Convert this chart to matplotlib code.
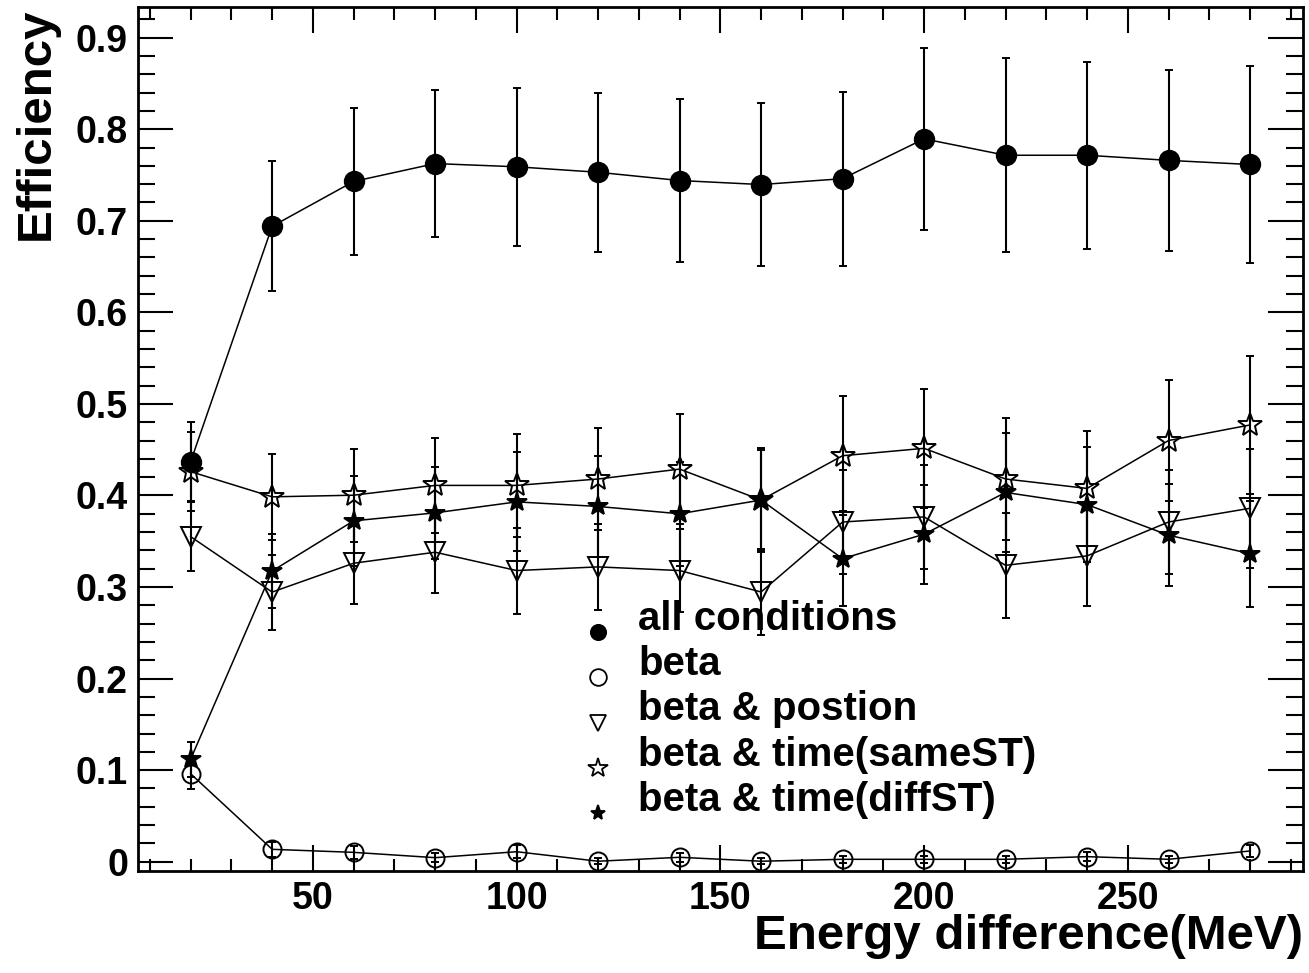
import matplotlib
matplotlib.use("Agg")
import matplotlib.pyplot as plt
from matplotlib.ticker import MultipleLocator, FuncFormatter
from matplotlib.lines import Line2D
from matplotlib.legend_handler import HandlerLine2D

plt.rcParams['font.family'] = ['Liberation Sans', 'DejaVu Sans']
plt.rcParams['font.weight'] = 'bold'

# energy difference bins (MeV)
energy = [20, 40, 60, 80, 100, 120, 140, 160, 180, 200, 220, 240, 260, 280]

# efficiencies, with their (symmetric) errors
eff_all = [0.437, 0.694, 0.743, 0.7625, 0.759, 0.753, 0.744, 0.7396, 0.746, 0.7895, 0.7716, 0.7716, 0.766, 0.7615]
err_all = [0.043, 0.071, 0.080, 0.080, 0.086, 0.087, 0.089, 0.089, 0.095, 0.099, 0.106, 0.102, 0.099, 0.108]

eff_beta = [0.096, 0.0135, 0.0102, 0.0044, 0.0109, 0.0005, 0.0048, 0.0005, 0.0026, 0.0026, 0.0026, 0.0055, 0.0026, 0.0117]
err_beta = [0.017, 0.008, 0.007, 0.005, 0.007, 0.003, 0.005, 0.003, 0.004, 0.004, 0.004, 0.005, 0.004, 0.007]

eff_pos = [0.355, 0.2945, 0.326, 0.338, 0.318, 0.322, 0.318, 0.2946, 0.371, 0.3766, 0.3237, 0.334, 0.371, 0.386]
err_pos = [0.038, 0.041, 0.044, 0.044, 0.047, 0.047, 0.045, 0.047, 0.057, 0.057, 0.057, 0.055, 0.057, 0.065]

eff_same = [0.426, 0.3985, 0.4003, 0.411, 0.411, 0.418, 0.4288, 0.395, 0.4434, 0.4515, 0.418, 0.4077, 0.46, 0.477]
err_same = [0.043, 0.047, 0.051, 0.052, 0.056, 0.056, 0.060, 0.057, 0.065, 0.065, 0.067, 0.063, 0.066, 0.075]

eff_diff = [0.112, 0.3175, 0.3723, 0.381, 0.393, 0.388, 0.380, 0.395, 0.331, 0.3577, 0.4033, 0.390, 0.3566, 0.3365]
err_diff = [0.019, 0.040, 0.049, 0.050, 0.054, 0.055, 0.057, 0.055, 0.052, 0.054, 0.065, 0.063, 0.056, 0.058]

labels = ["all conditions", "beta", "beta & postion", "beta & time(sameST)", "beta & time(diffST)"]

# marker style per series: (marker, filled, size in plot, size in legend)
styles = [("o", True, 14, 11), ("o", False, 13, 12), ("v", False, 14, 12),
          ("*", False, 18, 15), ("*", True, 15, 11)]
series = [(eff_all, err_all), (eff_beta, err_beta), (eff_pos, err_pos),
          (eff_same, err_same), (eff_diff, err_diff)]

fig = plt.figure(figsize=(13.09, 9.73), dpi=100)
ax = fig.add_axes([0.1052, 0.1048, 0.8902, 0.8877])

handles = []
for (y, e), (mk, filled, ms, ms_leg) in zip(series, styles):
    fc = 'black' if filled else 'none'
    ax.errorbar(energy, y, yerr=e, fmt='-', color='black', lw=1.1,
                marker=mk, ms=ms, mfc=fc, mec='black', mew=1.4,
                elinewidth=1.5, capsize=2.6, capthick=1.6)
    handles.append(Line2D([], [], ls='none', marker=mk, ms=ms_leg, mfc=fc,
                          mec='black', mew=1.3))


class LowHandler(HandlerLine2D):
    # put the legend markers near the text baseline, as in the original
    def create_artists(self, legend, orig_handle, xdescent, ydescent,
                       width, height, fontsize, trans):
        return super().create_artists(legend, orig_handle, xdescent, ydescent,
                                      width, height - 0.8 * fontsize, fontsize, trans)


ax.legend(handles, labels, loc='upper left', bbox_to_anchor=(578 / 1309, 1 - 600 / 973),
          bbox_transform=fig.transFigure, frameon=False, fontsize=29,
          handlelength=1.0, handletextpad=0.5, labelspacing=0.18, borderpad=0,
          borderaxespad=0, handler_map={Line2D: LowHandler()})

ax.set_xlim(7, 293)
ax.set_ylim(-0.0102, 0.9332)

ax.xaxis.set_major_locator(MultipleLocator(50))
ax.xaxis.set_minor_locator(MultipleLocator(10))
ax.yaxis.set_major_locator(MultipleLocator(0.1))
ax.yaxis.set_minor_locator(MultipleLocator(0.02))
ax.yaxis.set_major_formatter(FuncFormatter(lambda v, p: f"{v:.1f}".rstrip('0').rstrip('.') if abs(v) > 1e-9 else "0"))

ax.tick_params(which='both', direction='in', top=True, right=True, width=1.5, labelsize=27)
ax.tick_params(axis='y', which='major', length=25, pad=7)
ax.tick_params(axis='y', which='minor', length=12.5)
ax.tick_params(axis='x', which='major', length=19, pad=7)
ax.tick_params(axis='x', which='minor', length=9)
for sp in ax.spines.values():
    sp.set_linewidth(2)

ax.set_xlabel("Energy difference(MeV)", fontsize=35.5, fontweight='bold', loc='right')
ax.xaxis.set_label_coords(1.0, -0.05)
ax.set_ylabel("Efficiency", fontsize=35.5, fontweight='bold', loc='top')
ax.yaxis.set_label_coords(-0.068, 1.0)

fig.savefig("out.png", dpi=100)
